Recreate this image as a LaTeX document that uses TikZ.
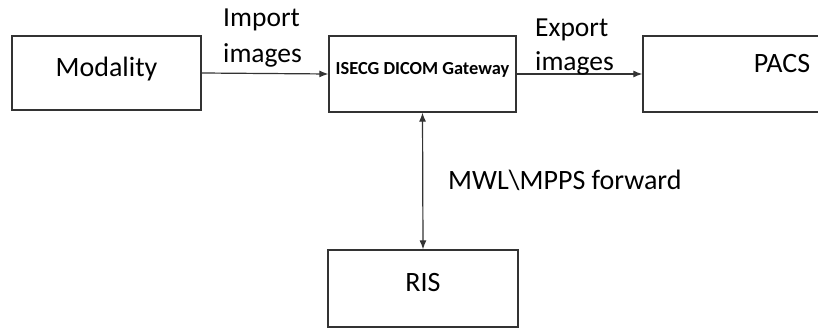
\documentclass[tikz,border=0pt]{standalone}
\usepackage{fontspec}
\setmainfont{Carlito}
\usetikzlibrary{arrows.meta}
\tikzset{
  box/.style={draw=black!80, line width=1.3pt, inner sep=0pt, text height=0.644em, text depth=0pt},
  bigtxt/.style={font=\fontsize{28}{32}\selectfont},
  lbl/.style={inner sep=0pt, anchor=base west, font=\fontsize{27.5}{32}\selectfont},
  conn/.style={draw=black!80, line width=1.2pt},
  tip/.tip={Latex[length=9pt,width=7pt]}
}
\begin{document}
\begin{tikzpicture}[x=1pt,y=-1pt]
\useasboundingbox (0,0) rectangle (818,328);
\node[box, bigtxt, minimum width=189pt, minimum height=74pt] (mod) at (106.5,73) {Modality};
\node[box, font=\bfseries\fontsize{18.4}{20}\selectfont, minimum width=187pt, minimum height=76pt] (gw) at (422.5,74) {\raisebox{2.5pt}{ISECG DICOM Gateway}};
\node[box, bigtxt, minimum width=278pt, minimum height=76pt] (pacs) at (782,74) {\raisebox{4.5pt}{PACS}};
\node[box, bigtxt, minimum width=190pt, minimum height=77pt] (ris) at (423,288.5) {RIS};
\draw[conn, -tip] (mod.east) -- (gw.west);
\draw[conn, -tip] (gw.east) -- (pacs.west);
\draw[conn, tip-tip] (gw.south) -- (ris.north);
\node[lbl] (imp1) at (223,27) {Import};
\node[lbl] (imp2) at (223,63) {images};
\node[lbl] (exp1) at (535,37) {Export};
\node[lbl] (exp2) at (535,71) {images};
\node[lbl, font=\fontsize{28}{32}\selectfont] (mwl) at (448,190) {MWL\textbackslash MPPS forward};
\end{tikzpicture}
\end{document}
